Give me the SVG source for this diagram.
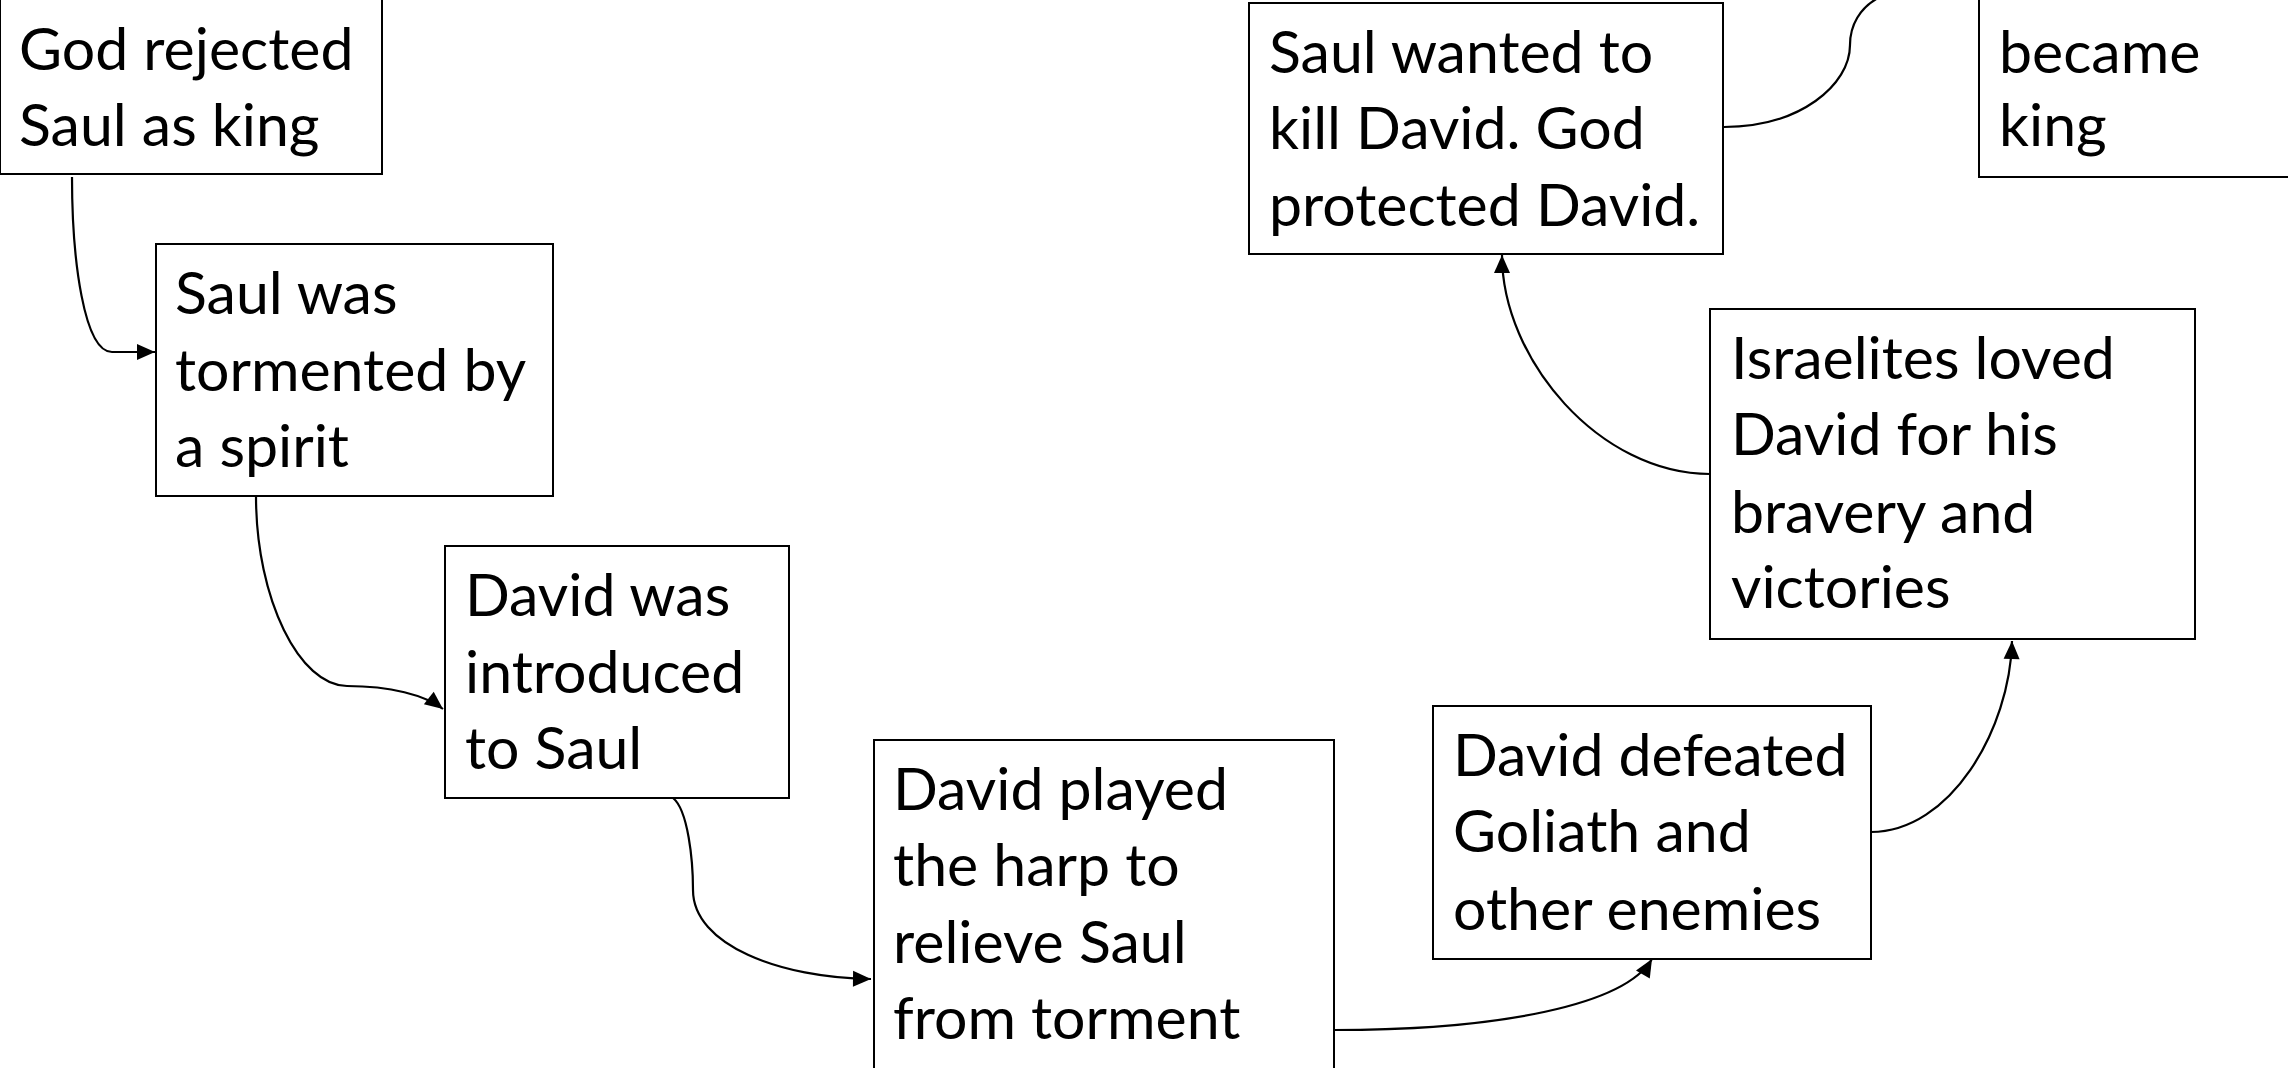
<svg xmlns="http://www.w3.org/2000/svg" width="2288" height="1068" viewBox="0 0 2288 1068">
<style>
.box{fill:#fff;stroke:#000;stroke-width:2}
.t{font-family:Lato,"Open Sans","Liberation Sans",sans-serif;font-size:59px;fill:#000}
.c{fill:none;stroke:#000;stroke-width:2.2}
</style>
<defs>
<marker id="ah" viewBox="0 0 18 16" refX="18" refY="8" markerWidth="18" markerHeight="16" markerUnits="userSpaceOnUse" orient="auto" overflow="visible">
<path d="M0,0 L18,8 L0,16 z" fill="#000"/>
</marker>
</defs>
<rect width="2288" height="1068" fill="#fff"/>
<g id="connectors">
<path class="c" d="M72,177 C72,260 84,352 112,352 L155,352" marker-end="url(#ah)"/>
<path class="c" d="M256,496 C256,600 300,686 347,686 C390,686 425,695 443,709" marker-end="url(#ah)"/>
<path class="c" d="M673,798 C688,810 693,860 693,890 C693,945 780,978 871,979" marker-end="url(#ah)"/>
<path class="c" d="M1334,1030 C1500,1030 1625,1005 1652,959" marker-end="url(#ah)"/>
<path class="c" d="M1871,832 C1950,832 2010,730 2012,641" marker-end="url(#ah)"/>
<path class="c" d="M1710,474 C1600,474 1502,360 1502,255" marker-end="url(#ah)"/>
<path class="c" d="M1724,127 C1800,127 1850,85 1850,45 C1850,25 1860,8 1878,-2"/>
</g>
<g id="n1"><rect class="box" x="0" y="-10" width="382" height="184"/>
<text class="t" x="19" y="70">God rejected</text><text class="t" x="19" y="146">Saul as king</text></g>
<g id="n2"><rect class="box" x="156" y="244" width="397" height="252"/>
<text class="t" x="175" y="314">Saul was</text><text class="t" x="175" y="391">tormented by</text><text class="t" x="175" y="467">a spirit</text></g>
<g id="n3"><rect class="box" x="445" y="546" width="344" height="252"/>
<text class="t" x="465" y="616">David was</text><text class="t" x="465" y="693">introduced</text><text class="t" x="465" y="769">to Saul</text></g>
<g id="n4"><rect class="box" x="874" y="740" width="460" height="340"/>
<text class="t" x="893" y="810">David played</text><text class="t" x="893" y="886">the harp to</text><text class="t" x="893" y="963">relieve Saul</text><text class="t" x="893" y="1039">from torment</text></g>
<g id="n5"><rect class="box" x="1433" y="706" width="438" height="253"/>
<text class="t" x="1453" y="776">David defeated</text><text class="t" x="1453" y="852">Goliath and</text><text class="t" x="1453" y="930">other enemies</text></g>
<g id="n6"><rect class="box" x="1710" y="309" width="485" height="330"/>
<text class="t" x="1731" y="379">Israelites loved</text><text class="t" x="1731" y="455">David for his</text><text class="t" x="1731" y="533">bravery and</text><text class="t" x="1731" y="608">victories</text></g>
<g id="n7"><rect class="box" x="1249" y="3" width="474" height="251"/>
<text class="t" x="1269" y="73">Saul wanted to</text><text class="t" x="1269" y="149">kill David. God</text><text class="t" x="1269" y="226">protected David.</text></g>
<g id="n8"><rect class="box" x="1979" y="-10" width="330" height="187"/>
<text class="t" x="1999" y="73">became</text><text class="t" x="1999" y="146">king</text></g>
</svg>
